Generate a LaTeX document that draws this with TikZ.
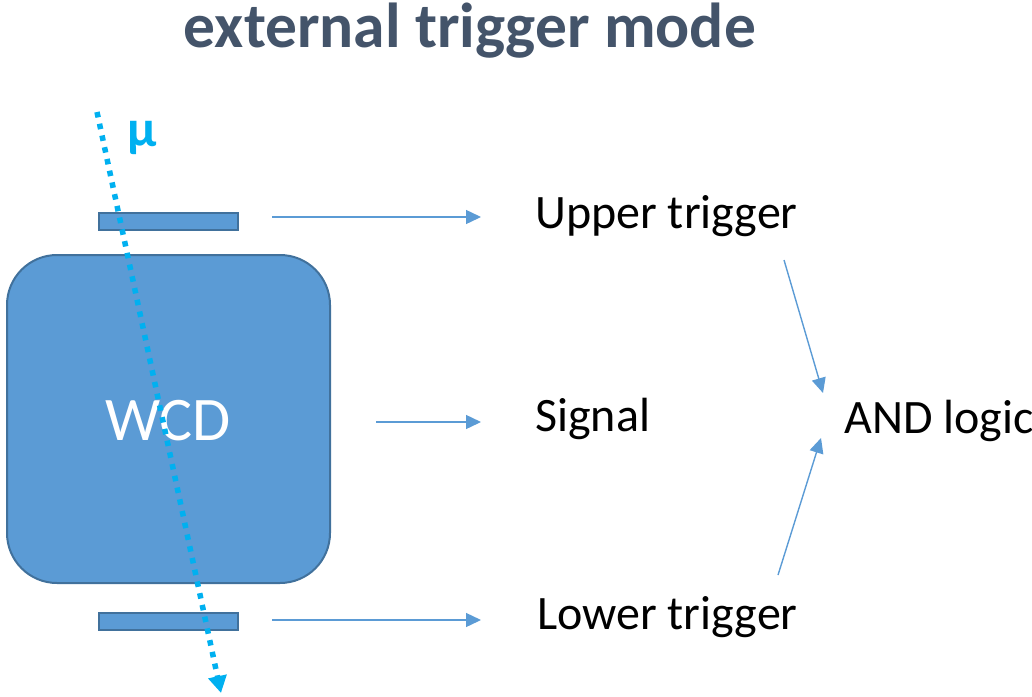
\documentclass[tikz,border=0pt]{standalone}
\usepackage{fontspec}
\setmainfont{Carlito}
\usetikzlibrary{arrows.meta}
\definecolor{boxblue}{HTML}{5B9BD5}
\definecolor{boxedge}{HTML}{41719C}
\definecolor{muon}{HTML}{00B0F0}
\definecolor{titlec}{HTML}{44546A}
\tikzset{
  barbox/.style={draw=boxedge, fill=boxblue, line width=2pt, minimum width=139pt, minimum height=17pt, inner sep=0pt},
  flow/.style={draw=boxblue, line width=1.4pt, -{Triangle[length=15pt,width=14pt]}},
  label47/.style={font=\fontsize{48}{56}\selectfont, inner sep=0pt, anchor=base west}
}
\begin{document}
\begin{tikzpicture}[x=1pt,y=-1pt]
\useasboundingbox (0,0) rectangle (1032,696);
% title
\node[font=\fontsize{63.5}{74}\selectfont\bfseries, text=titlec, inner sep=0pt, anchor=base] (title) at (470,47) {external trigger mode};
% WCD
\node[draw=boxedge, fill=boxblue, line width=2pt, rounded corners=50pt, minimum width=323pt, minimum height=328pt, inner sep=0pt, anchor=north west] (wcd) at (6,254) {};
\node[font=\fontsize{62}{74}\selectfont, text=white, inner sep=0pt, anchor=base] (wcdtext) at (168,440) {WCD};
% bars
\node[barbox, anchor=north west] (upbar) at (98,212) {};
\node[barbox, anchor=north west] (lowbar) at (98,612) {};
% texts
\node[label47] (upper) at (535,228) {Upper trigger};
\node[label47] (signal) at (535,431) {Signal};
\node[label47] (lower) at (537,629) {Lower trigger};
\node[label47] (and) at (844,433) {AND logic};
% arrow endpoints
\coordinate (u1) at (272,217);
\coordinate (u2) at (481,217);
\coordinate (s1) at (376,422);
\coordinate (s2) at (481,422);
\coordinate (l1) at (272,620);
\coordinate (l2) at (481,620);
\coordinate (a1) at (784,260);
\coordinate (a2) at (823,393);
\coordinate (b1) at (778,575);
\coordinate (b2) at (821,438);
\draw[flow] (u1) -- (u2);
\draw[flow] (s1) -- (s2);
\draw[flow] (l1) -- (l2);
\draw[flow] (a1) -- (a2);
\draw[flow] (b1) -- (b2);
% muon
\coordinate (m1) at (97,112);
\coordinate (m2) at (221,693);
\draw[muon, line width=5.5pt, dash pattern=on 5.5pt off 6.5pt, -{Triangle[length=17pt,width=18pt]}] (m1) -- (m2);
\node[font=\fontsize{52}{60}\selectfont\bfseries, text=muon, inner sep=0pt, anchor=base west] (mu) at (127,146) {μ};
\end{tikzpicture}
\end{document}
